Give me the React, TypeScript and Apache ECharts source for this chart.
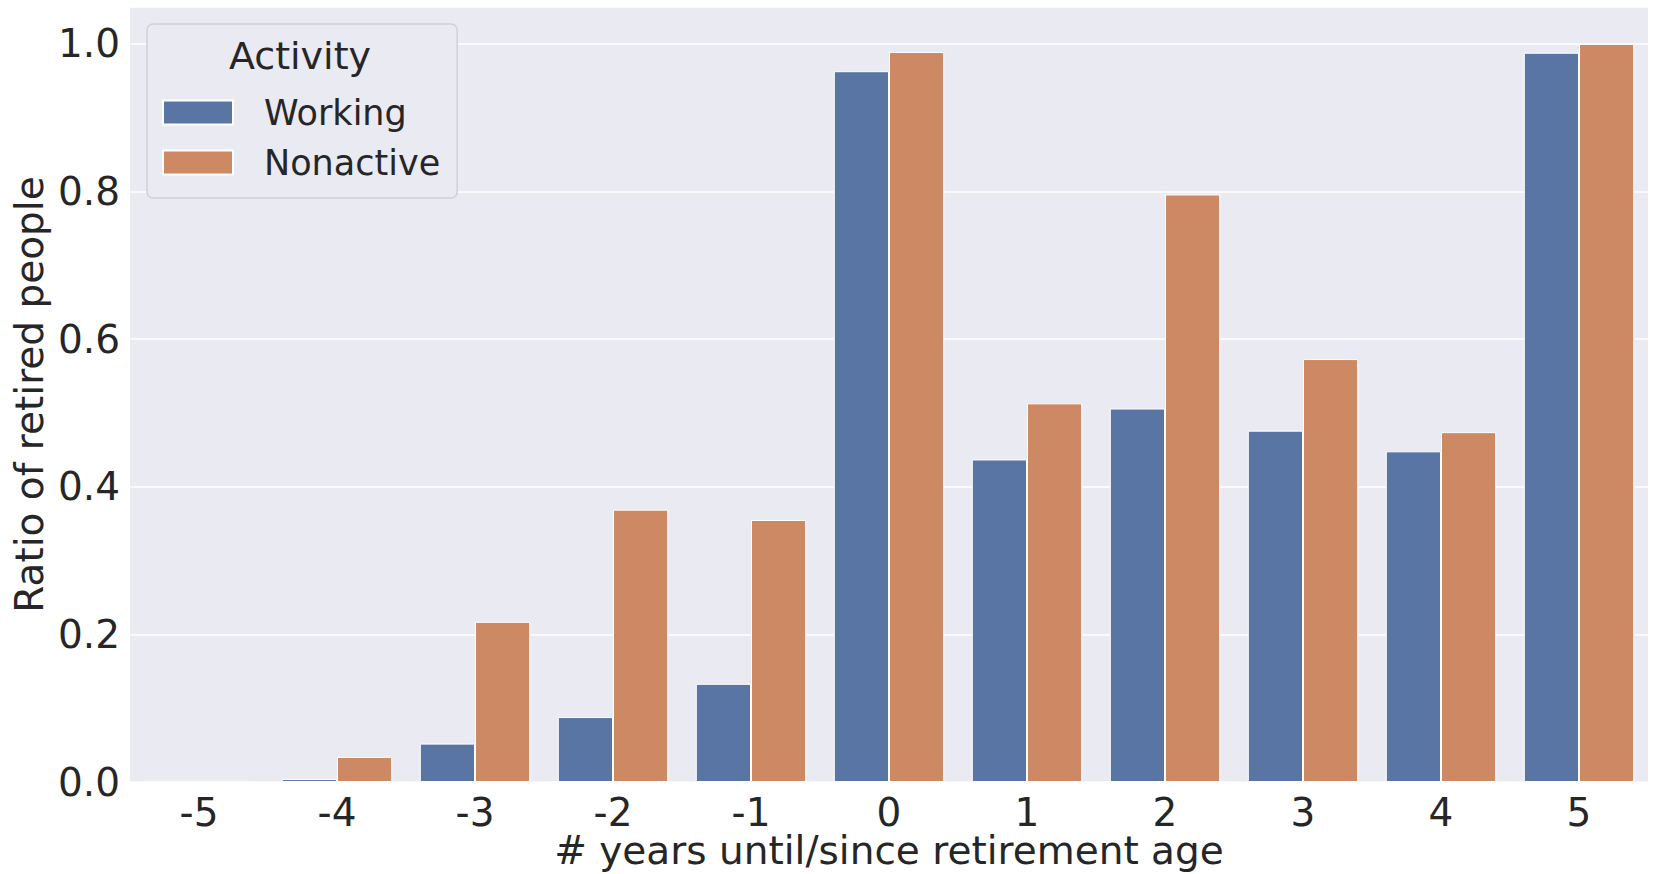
import React, { useEffect, useRef } from "react";
import * as echarts from "echarts";

const categories = ["-5", "-4", "-3", "-2", "-1", "0", "1", "2", "3", "4", "5"];
const working = [0, 0.004, 0.052, 0.088, 0.133, 0.963, 0.437, 0.506, 0.476, 0.448, 0.988];
const nonactive = [0, 0.034, 0.217, 0.369, 0.355, 0.989, 0.513, 0.796, 0.573, 0.474, 1.0];
const seriesNames = ["Working", "Nonactive"];
const colors = ["#5975a4", "#cc8963"];

const FONT = "DejaVu Sans";
const TEXT = "#262626";

const App = () => {
  const chartRef = useRef<HTMLDivElement>(null);

  useEffect(() => {
    if (!chartRef.current) return;
    const chart = echarts.init(chartRef.current, undefined, { renderer: "svg" });
    chart.setOption({
      animation: false,
      textStyle: { fontFamily: FONT, color: TEXT },
      grid: {
        left: 130,
        right: 6,
        top: 7,
        bottom: 92,
        outerBoundsMode: "none",
        show: true,
        backgroundColor: "#eaeaf2",
        borderWidth: 0,
      },
      xAxis: {
        type: "category",
        data: categories,
        axisLine: { show: false },
        axisTick: { show: false },
        axisLabel: { fontSize: 39, lineHeight: 36, color: TEXT, margin: 12, fontFamily: FONT },
        name: "# years until/since retirement age",
        nameLocation: "middle",
        nameMoveOverlap: false,
        nameGap: 49,
        nameTextStyle: { fontSize: 39, lineHeight: 39, color: TEXT, fontFamily: FONT },
      },
      yAxis: {
        type: "value",
        min: 0,
        max: 1.05,
        interval: 0.2,
        axisLine: { show: false },
        axisTick: { show: false },
        axisLabel: {
          fontSize: 39,
          color: TEXT,
          margin: 10,
          fontFamily: FONT,
          formatter: (v: number) => (v > 1.001 ? "" : v.toFixed(1)),
        },
        splitLine: { lineStyle: { color: "#ffffff", width: 1.5 } },
        name: "Ratio of retired people",
        nameLocation: "middle",
        nameMoveOverlap: false,
        nameGap: 81,
        nameTextStyle: { fontSize: 39, color: TEXT, fontFamily: FONT },
      },
      legend: {
        orient: "vertical",
        left: 147,
        top: 24,
        padding: [71, 17, 18, 15],
        itemGap: 15,
        itemWidth: 70,
        itemHeight: 24,
        backgroundColor: "#eaeaf2",
        borderColor: "#d0d0d6",
        borderWidth: 1.5,
        borderRadius: 6,
        data: seriesNames.map((n) => ({ name: n, icon: "rect" })),
        textStyle: {
          fontSize: 35,
          lineHeight: 35,
          color: TEXT,
          fontFamily: FONT,
          padding: [0, 0, 0, 26],
        },
      },
      graphic: [
        {
          type: "text",
          x: 300,
          y: 56,
          z: 100,
          style: {
            text: "Activity",
            align: "center",
            verticalAlign: "middle",
            fontSize: 38,
            fontFamily: FONT,
            fill: TEXT,
          },
        },
      ],
      series: [
        {
          name: seriesNames[0],
          type: "bar",
          data: working,
          barGap: "0%",
          barCategoryGap: "20%",
          itemStyle: { color: colors[0], borderColor: "#ffffff", borderWidth: 1 },
        },
        {
          name: seriesNames[1],
          type: "bar",
          data: nonactive,
          barGap: "0%",
          barCategoryGap: "20%",
          itemStyle: { color: colors[1], borderColor: "#ffffff", borderWidth: 1 },
        },
      ],
    });
    return () => {
      chart.dispose();
    };
  }, []);

  return (
    <div
      ref={chartRef}
      style={{ position: "fixed", left: 0, top: 0, width: "1654px", height: "874px", background: "#ffffff" }}
      aria-label="Ratio of retired people by years until/since retirement age"
    />
  );
};

export default App;
